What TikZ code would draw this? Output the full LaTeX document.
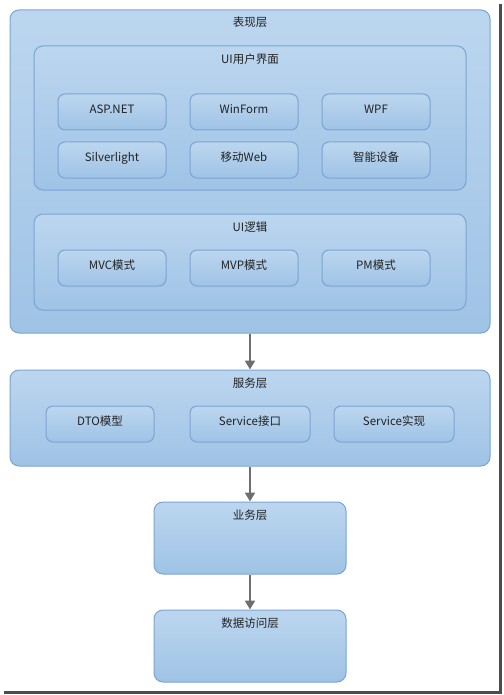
\documentclass[tikz,border=0pt]{standalone}
\usepackage{fontspec}
\setmainfont{Noto Sans CJK SC}
\usetikzlibrary{arrows.meta}

\definecolor{boxtop}{HTML}{BCD6EF}
\definecolor{boxbot}{HTML}{9FC3E6}
\definecolor{boxline}{HTML}{7BA4D4}
\definecolor{arrowgray}{HTML}{6E6E6E}
\definecolor{textgray}{HTML}{222222}

\tikzset{
  layer/.style={draw=boxline, line width=1pt, rounded corners=9pt,
    top color=boxtop, bottom color=boxbot, inner sep=0pt},
  item/.style={layer, rounded corners=7pt, minimum height=36pt,
    text height=8pt, text depth=5pt},
  title/.style={inner sep=0pt},
  flow/.style={draw=arrowgray, line width=2pt,
    -{Triangle[length=9pt,width=10pt]}},
}

\begin{document}
\begin{tikzpicture}[x=1pt, y=-1pt, every node/.style={text=textgray, font=\fontsize{11.5}{13}\selectfont}]
            \useasboundingbox (0,0) rectangle (503,695);
            % frame shadow
            \fill[black!70] (499,4) rectangle (502,694);
            \fill[black!70] (4,691) rectangle (502,694);

            % presentation layer
            \node[layer, minimum width=480pt, minimum height=323pt] (pres) at (250,171.5) {};
            \node[title] (presT) at ([yshift=-13pt]pres.north) {表现层};

            \node[layer, minimum width=432pt, minimum height=144pt] (ui) at (250,118) {};
            \node[title] (uiT) at ([yshift=-14pt]ui.north) {UI用户界面};
            \foreach \t [count=\i] in {ASP.NET, WinForm, WPF} {
                \node[item, minimum width=108pt] (ui\i) at ({112+132*(\i-1)},112) {\t};
            }
            \foreach \t [count=\i] in {Silverlight, 移动Web, 智能设备} {
                \node[item, minimum width=108pt] (dev\i) at ({112+132*(\i-1)},160) {\t};
            }

            \node[layer, minimum width=432pt, minimum height=96pt] (logic) at (250,262) {};
            \node[title] (logicT) at ([yshift=-14pt]logic.north) {UI逻辑};
            \foreach \t [count=\i] in {MVC模式, MVP模式, PM模式} {
                \node[item, minimum width=108pt] (mode\i) at ({112+132*(\i-1)},268) {\t};
            }

            % service layer
            \node[layer, minimum width=480pt, minimum height=96pt] (svc) at (250,418) {};
            \node[title] (svcT) at ([yshift=-14pt]svc.north) {服务层};
            \node[item, minimum width=108pt] (dto) at (100,424) {DTO模型};
            \node[item, minimum width=120pt] (iface) at (250,424) {Service接口};
            \node[item, minimum width=120pt] (impl) at (394,424) {Service实现};

            % business and data layers
            \node[layer, minimum width=192pt, minimum height=72pt] (biz) at (250,538) {};
            \node[title] (bizT) at ([yshift=-14pt]biz.north) {业务层};
            \node[layer, minimum width=192pt, minimum height=72pt] (dal) at (250,646) {};
            \node[title] (dalT) at ([yshift=-14pt]dal.north) {数据访问层};

            \draw[flow] (pres.south) -- (svc.north);
            \draw[flow] (svc.south) -- (biz.north);
            \draw[flow] (biz.south) -- (dal.north);
        \end{tikzpicture}
\end{document}
